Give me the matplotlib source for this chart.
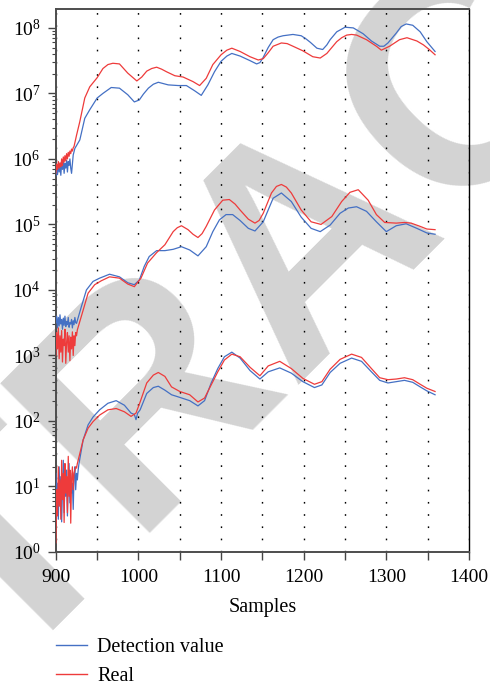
import numpy as np
import matplotlib
matplotlib.use("Agg")
import matplotlib.pyplot as plt
from matplotlib.lines import Line2D
from matplotlib.ticker import MultipleLocator, LogLocator, NullFormatter

plt.rcParams["font.family"] = ["Liberation Serif", "DejaVu Serif"]
plt.rcParams["mathtext.fontset"] = "custom"
plt.rcParams["mathtext.rm"] = "Liberation Serif"

BLUE = "#4470c4"
RED = "#ee3b3b"

# ---------------------------------------------------------------------------
# Data (log10 of the plotted value)
# ---------------------------------------------------------------------------

# upper pair
top_red_noise = [5.78, 5.92, 5.84, 5.96, 5.86, 5.94, 5.88, 6.00, 5.90, 6.03, 5.95, 6.05,
                 5.97, 6.08, 6.00, 6.10, 6.04, 6.12, 6.08, 6.15, 6.12, 6.17, 6.19]
top_red_x = [925, 929, 935, 941, 950, 957, 963, 969, 977, 987, 998, 1004, 1010, 1016, 1022,
             1028, 1034, 1044, 1054, 1066, 1074, 1082, 1090, 1100, 1107, 1113, 1123, 1135,
             1145, 1151, 1157, 1163, 1173, 1180, 1187, 1199, 1211, 1220, 1228, 1234, 1240,
             1246, 1252, 1258, 1264, 1276, 1288, 1294, 1304, 1316, 1325, 1337, 1345, 1352, 1359]
top_red_log = [6.36, 6.57, 6.93, 7.10, 7.24, 7.38, 7.44, 7.46, 7.45, 7.31, 7.19, 7.25, 7.34,
               7.38, 7.40, 7.37, 7.33, 7.27, 7.25, 7.18, 7.12, 7.23, 7.44, 7.59, 7.66, 7.69,
               7.64, 7.56, 7.51, 7.53, 7.62, 7.72, 7.77, 7.76, 7.72, 7.65, 7.56, 7.54, 7.61,
               7.70, 7.79, 7.85, 7.89, 7.90, 7.89, 7.82, 7.72, 7.66, 7.72, 7.82, 7.85, 7.80,
               7.74, 7.67, 7.59]

top_blue_noise = [5.74, 5.88, 5.76, 5.92, 5.80, 5.90, 5.75, 5.94, 5.84, 5.96, 5.78, 5.93,
                  5.86, 5.98, 5.80, 5.96, 5.90, 6.00, 5.86, 5.78, 5.92, 6.06]
top_blue_x = [923, 929, 935, 941, 950, 957, 967, 977, 987, 995, 1001, 1006, 1012, 1018, 1024,
              1036, 1048, 1058, 1068, 1076, 1084, 1092, 1100, 1107, 1113, 1123, 1135, 1143,
              1147, 1151, 1157, 1163, 1169, 1175, 1187, 1197, 1203, 1208, 1216, 1223, 1228,
              1232, 1240, 1250, 1260, 1272, 1282, 1292, 1297, 1302, 1312, 1318, 1324, 1332,
              1341, 1349, 1359]
top_blue_log = [6.16, 6.29, 6.62, 6.75, 6.93, 7.00, 7.09, 7.08, 6.98, 6.87, 6.90, 6.99, 7.08,
                7.14, 7.17, 7.13, 7.12, 7.12, 7.04, 6.97, 7.13, 7.33, 7.49, 7.57, 7.61, 7.57,
                7.50, 7.45, 7.47, 7.55, 7.70, 7.82, 7.86, 7.88, 7.90, 7.88, 7.83, 7.78, 7.69,
                7.67, 7.74, 7.82, 7.94, 8.01, 8.00, 7.91, 7.80, 7.72, 7.72, 7.77, 7.92, 8.02,
                8.06, 8.04, 7.94, 7.79, 7.64]

# middle pair
mid_blue_noise = [3.50, 3.60, 3.42, 3.58, 3.45, 3.62, 3.48, 3.55, 3.40, 3.57, 3.46, 3.60, 3.44,
                  3.52, 3.47, 3.58, 3.43, 3.50, 3.48, 3.55, 3.42, 3.53, 3.47, 3.58, 3.50, 3.49]
mid_blue_x = [931, 937, 945, 953, 965, 977, 987, 995, 1001, 1007, 1013, 1022, 1032, 1042, 1052,
              1062, 1072, 1082, 1090, 1098, 1106, 1114, 1123, 1133, 1141, 1151, 1157, 1163,
              1173, 1185, 1197, 1209, 1220, 1232, 1244, 1254, 1264, 1276, 1288, 1300, 1312,
              1324, 1337, 1349, 1359]
mid_blue_log = [3.75, 4.00, 4.13, 4.18, 4.24, 4.20, 4.11, 4.08, 4.15, 4.36, 4.51, 4.60, 4.60,
                4.62, 4.66, 4.61, 4.52, 4.66, 4.89, 5.07, 5.15, 5.15, 5.06, 4.94, 4.90, 5.04,
                5.22, 5.40, 5.48, 5.35, 5.11, 4.94, 4.89, 4.99, 5.17, 5.25, 5.27, 5.20, 5.04,
                4.89, 4.98, 5.01, 4.94, 4.87, 4.85]

mid_red_noise = [3.00, 3.35, 3.10, 3.42, 2.95, 3.30, 3.05, 3.38, 2.90, 3.25, 3.15, 3.40, 2.88,
                 3.20, 3.35, 3.05, 3.30, 2.92, 3.28, 3.10, 3.36, 3.00, 3.30, 3.15, 3.35, 3.30,
                 3.39]
mid_red_x = [933, 939, 947, 955, 965, 977, 987, 995, 1003, 1011, 1022, 1032, 1042, 1047, 1052,
             1060, 1066, 1072, 1077, 1082, 1092, 1102, 1110, 1117, 1123, 1133, 1141, 1146,
             1151, 1161, 1167, 1173, 1179, 1185, 1197, 1209, 1221, 1234, 1246, 1256, 1266,
             1278, 1288, 1298, 1312, 1322, 1330, 1341, 1349, 1359]
mid_red_log = [3.69, 3.95, 4.08, 4.14, 4.20, 4.18, 4.09, 4.05, 4.18, 4.41, 4.57, 4.69, 4.89,
               4.95, 4.98, 4.92, 4.85, 4.80, 4.86, 4.97, 5.22, 5.37, 5.38, 5.31, 5.22, 5.08,
               5.02, 5.06, 5.17, 5.48, 5.58, 5.61, 5.57, 5.48, 5.22, 5.04, 5.00, 5.12, 5.35,
               5.49, 5.53, 5.37, 5.15, 5.03, 5.02, 5.03, 5.02, 4.97, 4.93, 4.92]

# lower pair
low_red_noise = [0.14, 0.95, 0.55, 1.30, 0.70, 1.10, 0.50, 1.40, 0.80, 1.20, 0.45, 1.35, 0.90,
                 1.15, 0.60, 1.46, 0.85, 1.25, 0.44, 1.10, 1.30, 0.95, 1.20, 1.25, 1.30, 1.28,
                 1.35]
low_red_x = [927, 933, 939, 945, 953, 963, 973, 983, 991, 997, 1002, 1010, 1018, 1024, 1032,
             1040, 1050, 1062, 1072, 1080, 1088, 1096, 1104, 1113, 1123, 1135, 1147, 1157,
             1171, 1185, 1199, 1213, 1222, 1232, 1244, 1258, 1270, 1282, 1292, 1302, 1312,
             1322, 1332, 1341, 1349, 1359]
low_red_log = [1.40, 1.71, 1.89, 1.99, 2.09, 2.17, 2.19, 2.14, 2.07, 2.12, 2.29, 2.58, 2.70,
               2.74, 2.68, 2.52, 2.45, 2.40, 2.29, 2.35, 2.55, 2.75, 2.93, 3.02, 2.98, 2.82,
               2.69, 2.84, 2.91, 2.80, 2.65, 2.56, 2.60, 2.79, 2.94, 3.02, 2.97, 2.80, 2.66,
               2.63, 2.64, 2.66, 2.63, 2.56, 2.50, 2.45]

low_blue_noise = [1.20, 0.80, 1.05, 0.50, 1.30, 0.70, 1.15, 0.46, 0.95, 1.40, 0.60, 1.10, 0.85,
                  1.25, 0.55, 1.00, 1.35, 0.75, 1.20, 0.90, 1.05, 0.65, 1.15, 1.30, 0.95, 1.20,
                  1.10, 1.25, 1.35]
low_blue_x = [933, 939, 945, 953, 963, 973, 983, 991, 995, 997, 999, 1002, 1010, 1018, 1024,
              1032, 1040, 1050, 1062, 1072, 1080, 1088, 1096, 1104, 1113, 1123, 1135, 1147,
              1157, 1171, 1185, 1199, 1213, 1222, 1232, 1244, 1258, 1270, 1282, 1292, 1302,
              1312, 1322, 1332, 1341, 1349, 1359]
low_blue_log = [1.71, 1.94, 2.06, 2.17, 2.27, 2.31, 2.24, 2.12, 2.10, 2.02, 2.12, 2.17, 2.42,
                2.51, 2.53, 2.47, 2.40, 2.36, 2.31, 2.23, 2.31, 2.58, 2.80, 2.98, 3.05, 2.96,
                2.77, 2.64, 2.75, 2.81, 2.73, 2.60, 2.51, 2.55, 2.74, 2.88, 2.96, 2.91, 2.75,
                2.62, 2.58, 2.60, 2.62, 2.59, 2.52, 2.46, 2.40]

x_ticks = [900, 1000, 1100, 1200, 1300, 1400]


def series(noise, xs, logs):
    """Noisy samples start at 900 (one per sample), then the smooth readings."""
    x = np.concatenate([np.arange(900, 900 + len(noise)), xs])
    y = 10.0 ** np.concatenate([noise, logs])
    return x, y


fig = plt.figure(figsize=(4.9, 6.84), dpi=100)

# gray "RETRACTED" stamp behind the chart
fig.text(0.749, 0.566, "RETRACTED", family="Liberation Sans", weight="bold",
         fontsize=222, color="#d3d3d3", rotation=45, rotation_mode="anchor",
         ha="center", va="baseline", zorder=-1)

ax = fig.add_axes([0.114, 0.193, 0.843, 0.794])
ax.set_facecolor("none")

pairs = [
    (top_blue_noise, top_blue_x, top_blue_log, top_red_noise, top_red_x, top_red_log),
    (mid_blue_noise, mid_blue_x, mid_blue_log, mid_red_noise, mid_red_x, mid_red_log),
    (low_blue_noise, low_blue_x, low_blue_log, low_red_noise, low_red_x, low_red_log),
]
for bn, bx, bl, rn, rx, rl in pairs:
    ax.plot(*series(bn, bx, bl), color=BLUE, lw=0.9, zorder=3)
    ax.plot(*series(rn, rx, rl), color=RED, lw=0.9, zorder=4)

ax.set_yscale("log")
ax.set_xlim(900, 1400)
ax.set_ylim(1, 10 ** 8.29)
ax.set_xticks(x_ticks)
ax.xaxis.set_minor_locator(MultipleLocator(50))
ax.yaxis.set_major_locator(LogLocator(base=10, numticks=20))
ax.yaxis.set_minor_locator(LogLocator(base=10, subs=np.arange(2, 10), numticks=20))
ax.yaxis.set_minor_formatter(NullFormatter())

ax.xaxis.grid(True, which="both", color="black", lw=1.0, linestyle=(0, (1.2, 7.6)))
ax.set_axisbelow(True)

ax.tick_params(axis="both", which="major", labelsize=14, length=6, width=1, color="#444444")
ax.tick_params(axis="y", which="major", pad=5)
ax.tick_params(axis="x", which="major", pad=6)
ax.tick_params(axis="both", which="minor", length=3, width=0.8, color="#444444")
ax.tick_params(axis="x", which="minor", length=6, width=1)

for side in ["left", "bottom", "top"]:
    ax.spines[side].set_color("#4d4d4d")
    ax.spines[side].set_linewidth(1.4)
ax.spines["right"].set_color("black")
ax.spines["right"].set_linewidth(1.0)

ax.set_xlabel("Samples", fontsize=14.5, labelpad=9)

handles = [Line2D([], [], color=BLUE, lw=1.0), Line2D([], [], color=RED, lw=1.0)]
fig.legend(handles, ["Detection value", "Real"], loc="upper left",
           bbox_to_anchor=(0.114, 0.068), frameon=False, fontsize=14.5,
           handlelength=1.55, handletextpad=0.5, labelspacing=0.5, borderpad=0,
           borderaxespad=0)

fig.savefig("out.png", dpi=100)
